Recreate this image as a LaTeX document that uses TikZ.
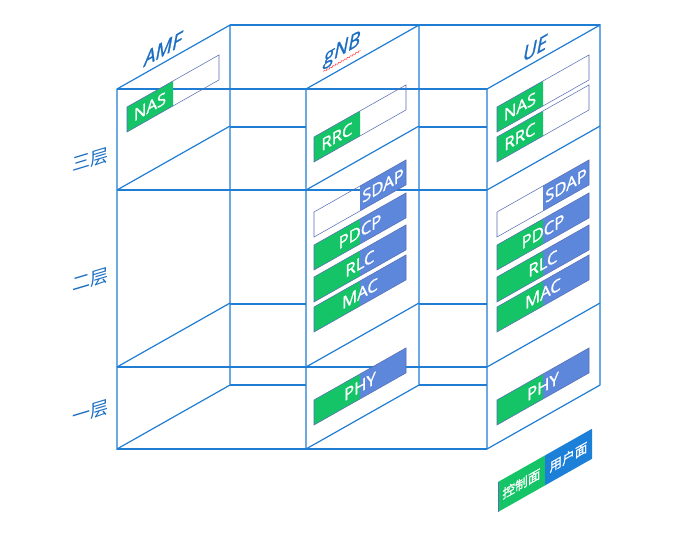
\documentclass[tikz,border=0pt]{standalone}
\usepackage{fontspec}
\setsansfont{Open Sans}
\newfontfamily\boxfont[FakeBold=1.2]{Open Sans}
\newfontfamily\cjkfont{Noto Sans CJK SC}
\newfontfamily\cjkbold[FakeBold=1]{Noto Sans CJK SC}
\usetikzlibrary{decorations.pathmorphing}
\definecolor{FrameBlue}{rgb}{0.12, 0.49, 0.83}
\definecolor{LabelBlue}{rgb}{0.11, 0.43, 0.76}
\definecolor{CtrlGreen}{rgb}{0.08, 0.77, 0.40}
\definecolor{UserBlue}{rgb}{0.36, 0.53, 0.86}
\definecolor{LegendBlue}{rgb}{0.11, 0.50, 0.85}
\definecolor{EdgeBlue}{rgb}{0.35, 0.43, 0.71}

\tikzset{
  frame/.style={FrameBlue, line width=0.9pt},
  slab/.style={frame, fill=white},
  protlabel/.style={text=white, font=\boxfont\fontsize{12.5}{12.5}\selectfont, inner sep=0pt},
  toplabel/.style={text=LabelBlue, font=\boxfont\itshape\fontsize{15}{15}\selectfont, inner sep=0pt},
  layerlabel/.style={text=LabelBlue, font=\cjkfont\fontsize{13.5}{13.5}\selectfont, inner sep=0pt},
  legendlabel/.style={text=white, font=\cjkbold\fontsize{9.5}{9.5}\selectfont, inner sep=0pt},
}

% caja de protocolo: nombre, x, y, relleno izq, relleno der, texto, x del texto
\newcommand{\protbox}[7]{%
  \begin{scope}[shift={(#2,#3)}, yslant=0.566]
    \path[fill=#4] (0,0) rectangle (46,25);
    \path[fill=#5] (46,0) rectangle (92,25);
    \draw[EdgeBlue, line width=0.4pt] (0,0) rectangle (92,25);
    \node[protlabel, transform shape] (#1) at (#7,12.5) {#6};
  \end{scope}}

\begin{document}
\begin{tikzpicture}[x=0.75pt, y=-0.75pt, font=\sffamily]
\useasboundingbox (0,0) rectangle (690,533);

% plano trasero
\foreach \y in {25,127,304,385}
    \draw[frame] (230,\y) -- (600,\y);

% placas AMF, gNB, UE
\foreach \fx in {117,306,487}{
  \begin{scope}[shift={(\fx,89)}, yslant=0.566]
    \filldraw[slab] (0,0) rectangle (113,360);
    \draw[frame] (0,101) -- (113,101);
    \draw[frame] (0,278) -- (113,278);
  \end{scope}
}

% plano frontal
\foreach \y in {89,190,367,449}
    \draw[frame] (117,\y) -- (487,\y);

% titulos
\node[toplabel, yslant=0.566] (amf) at (163,49) {AMF};
\node[toplabel, yslant=0.566] (gnb) at (342,50) {gNB};
\node[toplabel, yslant=0.566] (ue) at (535,48) {UE};
\draw[red!75, line width=0.4pt, decorate, decoration={snake, amplitude=0.5pt, segment length=2.5pt}]
    ([yshift=-1pt]gnb.south west) -- ([yshift=-1pt]gnb.south east);

\node[layerlabel, yslant=0.3] (capa3) at (90,160) {三层};
\node[layerlabel, yslant=0.3] (capa2) at (90,280) {二层};
\node[layerlabel, yslant=0.3] (capa1) at (90,412) {一层};

% tercera capa
\protbox{amfnas}{127}{107}{CtrlGreen}{none}{NAS}{23}
\protbox{gnbrrc}{314}{137}{CtrlGreen}{none}{RRC}{23}
\protbox{uenas}{497}{107}{CtrlGreen}{none}{NAS}{23}
\protbox{uerrc}{497}{137}{CtrlGreen}{none}{RRC}{23}

% segunda y primera capa
\foreach \bx/\pre in {314/gnb, 497/ue}{
  \protbox{\pre sdap}{\bx}{212}{none}{UserBlue}{SDAP}{69}
  \foreach \by/\nm in {245/PDCP, 277/RLC, 307/MAC, 400/PHY}{
    \protbox{\pre\nm}{\bx}{\by}{CtrlGreen}{UserBlue}{\nm}{46}
  }
}

% leyenda
\begin{scope}[shift={(498,482)}, yslant=0.566]
  \fill[CtrlGreen] (0,0) rectangle (47,30);
  \fill[LegendBlue] (47,0) rectangle (94,30);
  \draw[EdgeBlue, line width=0.4pt] (0,0) -- (0,30);
  \node[legendlabel, transform shape] (ctrl) at (23.5,15) {控制面};
  \node[legendlabel, transform shape] (user) at (70.5,15) {用户面};
\end{scope}

\end{tikzpicture}
\end{document}
